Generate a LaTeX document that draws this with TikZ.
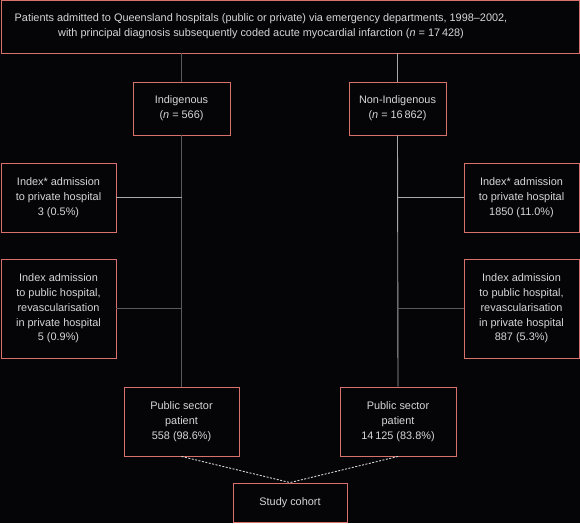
\documentclass[tikz,border=0pt]{standalone}
\usepackage{fontspec}
\setmainfont{Liberation Sans}
\definecolor{bg}{HTML}{050508}
\definecolor{boxred}{HTML}{D8706C}
\definecolor{txt}{HTML}{D6D6D6}
\definecolor{lineL}{HTML}{5A5A5A}
\definecolor{lineR}{HTML}{A8A8A8}
\tikzset{
  box/.style={draw=boxred, line width=0.9pt, fill=bg, text=txt, align=center, inner sep=0pt,
    font=\fontsize{10.9}{14.8}\selectfont},
  plain/.style={text=txt, align=center, inner sep=0pt, font=\fontsize{10.9}{15.5}\selectfont},
  conL/.style={draw=lineL, line width=0.9pt},
  conR/.style={draw=lineR, line width=0.9pt},
  dashcon/.style={draw=txt, line width=0.9pt, dash pattern=on 2pt off 1.5pt}
}
\begin{document}
\begin{tikzpicture}[x=1pt,y=-1pt]
\fill[bg] (0,0) rectangle (580,523);
\useasboundingbox (0,0) rectangle (580,523);
\node[box, minimum width=578pt, minimum height=53pt] (top) at (290,26.5) {};
\node[plain] (toptext) at (261,26)
  {Patients admitted to Queensland hospitals (public or private) via emergency departments, 1998–2002,\\
   with principal diagnosis subsequently coded acute myocardial infarction (\textit{n} = 17\,428)};
\node[box, minimum width=97pt, minimum height=53pt] (ind) at (181.5,108.5)
  {Indigenous\\(\textit{n} = 566)};
\node[box, minimum width=97pt, minimum height=53pt] (non) at (397.5,108.5)
  {Non-Indigenous\\(\textit{n} = 16\,862)};
\node[box, minimum width=115pt, minimum height=69pt] (lp) at (58.5,197.5)
  {Index* admission\\to private hospital\\3 (0.5\%)};
\node[box, minimum width=115pt, minimum height=69pt] (rp) at (521.5,197.5)
  {Index* admission\\to private hospital\\1850 (11.0\%)};
\node[box, minimum width=115pt, minimum height=99pt] (lr) at (58.5,308.5)
  {Index admission\\to public hospital,\\revascularisation\\in private hospital\\5 (0.9\%)};
\node[box, minimum width=115pt, minimum height=99pt] (rr) at (521.5,308.5)
  {Index admission\\to public hospital,\\revascularisation\\in private hospital\\887 (5.3\%)};
\node[box, minimum width=115pt, minimum height=69pt] (pl) at (181.5,421.5)
  {Public sector\\patient\\558 (98.6\%)};
\node[box, minimum width=116pt, minimum height=69pt] (pr) at (398,421.5)
  {Public sector\\patient\\14\,125 (83.8\%)};
\node[box, minimum width=114pt, minimum height=39pt] (sc) at (290,502.5)
  {Study cohort};
% connectors
\draw[conL] (top.south -| ind.north) -- (ind.north);
\draw[conR] (top.south -| non.north) -- (non.north);
\draw[conL] (ind.south) -- (pl.north);
\draw[conR] (non.south) -- (pr.north);
\draw[conR] (lp.east) -- (lp.east -| ind.south);
\draw[conL] (lr.east) -- (lr.east -| ind.south);
\draw[conR] (rp.west) -- (rp.west -| non.south);
\draw[conL] (rr.west) -- (rr.west -| non.south);
\draw[dashcon] (pl.south) -- (sc.north);
\draw[dashcon] (pr.south) -- (sc.north);
\end{tikzpicture}
\end{document}
